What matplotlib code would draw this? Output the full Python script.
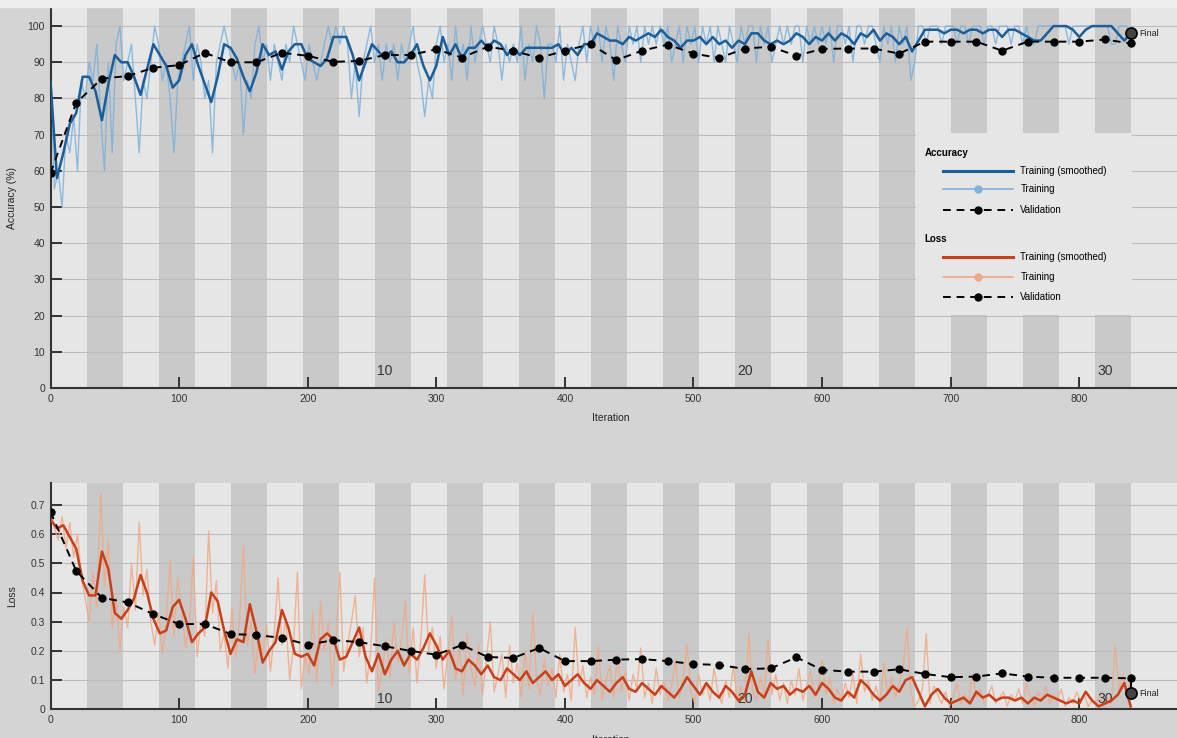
import numpy as np
import matplotlib.pyplot as plt
from matplotlib.patches import Rectangle
from matplotlib.lines import Line2D
from matplotlib.ticker import FuncFormatter
import matplotlib.transforms as mtransforms

# training setup
n_epochs = 30
iters_per_epoch = 28
raw_step = 3
smooth_step = 5
val_step = 20

# accuracy (%) - smoothed training, every 5 iterations
acc_smooth = [
    85, 58, 65, 73, 76, 86, 86, 82, 74, 84,
    92, 90, 90, 86, 81, 88, 95, 92, 89, 83,
    85, 92, 95, 89, 84, 79, 86, 95, 94, 91,
    86, 82, 87, 95, 92, 93, 88, 93, 95, 95,
    91, 90, 89, 91, 97, 97, 97, 92, 85, 90,
    95, 93, 91, 93, 90, 90, 92, 95, 89, 85,
    89, 97, 92, 95, 91, 94, 94, 96, 94, 96,
    95, 92, 94, 92, 94, 94, 94, 94, 94, 95,
    92, 94, 92, 95, 95, 98, 97, 96, 96, 95,
    97, 96, 97, 98, 97, 99, 97, 96, 94, 96,
    96, 97, 95, 97, 95, 96, 94, 96, 95, 98,
    98, 96, 95, 96, 95, 96, 98, 97, 95, 97,
    96, 98, 96, 98, 97, 95, 98, 97, 99, 96,
    98, 97, 95, 97, 93, 96, 99, 99, 99, 98,
    99, 99, 98, 99, 99, 98, 99, 99, 97, 99,
    99, 98, 97, 96, 96, 98, 100, 100, 100, 99,
    97, 99, 100, 100, 100, 100, 98, 96, 98,
]

# accuracy (%) - raw training, every 3 iterations
acc_raw = [
    85, 55, 60, 50, 70, 65, 75, 60, 85, 80,
    90, 85, 95, 75, 60, 90, 65, 95, 100, 85,
    90, 95, 80, 65, 85, 80, 90, 100, 95, 85,
    90, 80, 65, 85, 90, 95, 100, 85, 95, 90,
    80, 85, 65, 90, 95, 100, 95, 90, 85, 90,
    70, 85, 80, 95, 100, 90, 95, 85, 95, 90,
    85, 95, 90, 100, 95, 90, 85, 95, 90, 85,
    90, 95, 100, 95, 100, 95, 100, 95, 80, 90,
    75, 90, 95, 100, 90, 95, 85, 95, 90, 95,
    85, 95, 90, 95, 100, 90, 85, 75, 85, 80,
    95, 100, 90, 95, 85, 100, 90, 95, 85, 100,
    90, 95, 100, 95, 90, 100, 95, 85, 95, 90,
    95, 90, 100, 85, 95, 90, 100, 95, 80, 95,
    95, 90, 100, 85, 95, 90, 85, 95, 100, 90,
    100, 95, 100, 90, 100, 95, 85, 100, 95, 90,
    100, 95, 100, 90, 100, 95, 100, 95, 100, 95,
    100, 90, 95, 100, 90, 100, 95, 100, 90, 100,
    95, 100, 90, 100, 95, 90, 100, 95, 90, 100,
    95, 100, 100, 90, 100, 95, 100, 90, 95, 100,
    95, 100, 95, 100, 100, 90, 100, 95, 100, 95,
    100, 95, 100, 90, 100, 100, 95, 100, 90, 100,
    100, 95, 100, 100, 95, 90, 100, 95, 100, 90,
    100, 95, 100, 85, 90, 100, 100, 95, 100, 100,
    100, 95, 100, 100, 100, 95, 100, 100, 95, 100,
    100, 100, 95, 100, 100, 95, 100, 100, 100, 95,
    100, 100, 95, 100, 95, 95, 100, 100, 100, 100,
    100, 100, 100, 100, 95, 100, 100, 100, 100, 100,
    100, 100, 100, 100, 100, 95, 95, 100, 100, 100,
    95,
]

# accuracy (%) - validation, every 20 iterations
acc_val = [
    59.4, 78.8, 85.5, 86.2, 88.5, 89.2, 92.6, 90.0, 90.0, 92.6,
    91.8, 90.1, 90.4, 92.0, 92.0, 93.6, 91.3, 94.3, 93.2, 91.2,
    93.2, 95.0, 90.6, 93.2, 94.9, 92.4, 91.2, 93.8, 94.3, 91.8,
    93.7, 93.8, 93.8, 92.4, 95.7, 95.7, 95.7, 93.2, 95.7, 95.7,
    95.7, 96.3, 95.2,
]
acc_final = 98.0

# loss - smoothed training, every 5 iterations
loss_smooth = [
    0.65, 0.62, 0.63, 0.59, 0.55, 0.44, 0.39, 0.39, 0.54, 0.48,
    0.33, 0.31, 0.34, 0.38, 0.46, 0.40, 0.31, 0.26, 0.27, 0.35,
    0.375, 0.31, 0.23, 0.26, 0.28, 0.40, 0.37, 0.27, 0.19, 0.24,
    0.23, 0.36, 0.27, 0.16, 0.20, 0.23, 0.34, 0.28, 0.19, 0.18,
    0.19, 0.15, 0.24, 0.26, 0.24, 0.17, 0.18, 0.23, 0.28, 0.18,
    0.13, 0.19, 0.12, 0.17, 0.20, 0.15, 0.19, 0.17, 0.21, 0.26,
    0.22, 0.17, 0.20, 0.14, 0.13, 0.17, 0.15, 0.12, 0.15, 0.11,
    0.10, 0.14, 0.12, 0.10, 0.13, 0.09, 0.11, 0.13, 0.10, 0.12,
    0.08, 0.10, 0.12, 0.09, 0.07, 0.10, 0.08, 0.06, 0.09, 0.11,
    0.07, 0.06, 0.09, 0.07, 0.05, 0.08, 0.06, 0.04, 0.07, 0.11,
    0.08, 0.05, 0.09, 0.06, 0.04, 0.08, 0.06, 0.03, 0.05, 0.13,
    0.06, 0.04, 0.09, 0.07, 0.08, 0.05, 0.07, 0.06, 0.08, 0.05,
    0.09, 0.07, 0.04, 0.03, 0.06, 0.04, 0.10, 0.08, 0.05, 0.03,
    0.05, 0.08, 0.06, 0.10, 0.11, 0.06, 0.01, 0.05, 0.07, 0.04,
    0.02, 0.03, 0.04, 0.02, 0.06, 0.04, 0.05, 0.03, 0.04, 0.04,
    0.03, 0.04, 0.02, 0.04, 0.03, 0.05, 0.04, 0.03, 0.02, 0.03,
    0.02, 0.06, 0.03, 0.01, 0.02, 0.03, 0.05, 0.09, 0.01,
]

# loss - raw training, every 3 iterations
loss_raw = [
    0.68, 0.62, 0.58, 0.66, 0.55, 0.64, 0.52, 0.60, 0.45, 0.38,
    0.30, 0.47, 0.35, 0.74, 0.42, 0.58, 0.28, 0.38, 0.20, 0.35,
    0.28, 0.50, 0.34, 0.64, 0.39, 0.48, 0.30, 0.22, 0.33, 0.19,
    0.30, 0.51, 0.25, 0.45, 0.34, 0.21, 0.29, 0.52, 0.18, 0.30,
    0.25, 0.61, 0.33, 0.44, 0.20, 0.26, 0.14, 0.35, 0.18, 0.30,
    0.56, 0.22, 0.30, 0.12, 0.25, 0.19, 0.29, 0.13, 0.26, 0.45,
    0.22, 0.31, 0.10, 0.22, 0.47, 0.07, 0.18, 0.12, 0.33, 0.09,
    0.37, 0.20, 0.30, 0.08, 0.24, 0.47, 0.13, 0.22, 0.30, 0.39,
    0.18, 0.28, 0.09, 0.20, 0.45, 0.06, 0.14, 0.24, 0.11, 0.30,
    0.16, 0.24, 0.37, 0.12, 0.28, 0.09, 0.24, 0.46, 0.20, 0.28,
    0.14, 0.25, 0.07, 0.19, 0.32, 0.10, 0.21, 0.05, 0.26, 0.14,
    0.08, 0.22, 0.05, 0.17, 0.30, 0.06, 0.12, 0.19, 0.04, 0.22,
    0.09, 0.16, 0.04, 0.20, 0.07, 0.33, 0.10, 0.05, 0.17, 0.08,
    0.14, 0.04, 0.19, 0.06, 0.12, 0.03, 0.28, 0.08, 0.15, 0.04,
    0.11, 0.05, 0.22, 0.03, 0.10, 0.15, 0.04, 0.19, 0.06, 0.13,
    0.03, 0.12, 0.07, 0.21, 0.04, 0.09, 0.02, 0.14, 0.05, 0.10,
    0.03, 0.08, 0.17, 0.04, 0.11, 0.22, 0.06, 0.02, 0.12, 0.05,
    0.09, 0.03, 0.14, 0.06, 0.02, 0.10, 0.04, 0.15, 0.03, 0.08,
    0.02, 0.26, 0.06, 0.03, 0.11, 0.04, 0.24, 0.05, 0.12, 0.03,
    0.09, 0.02, 0.10, 0.05, 0.14, 0.03, 0.08, 0.13, 0.04, 0.07,
    0.17, 0.05, 0.11, 0.02, 0.07, 0.03, 0.09, 0.04, 0.12, 0.02,
    0.19, 0.06, 0.10, 0.03, 0.08, 0.02, 0.16, 0.05, 0.11, 0.04,
    0.09, 0.14, 0.28, 0.06, 0.01, 0.03, 0.07, 0.26, 0.02, 0.08,
    0.05, 0.02, 0.06, 0.01, 0.04, 0.09, 0.02, 0.05, 0.03, 0.12,
    0.04, 0.07, 0.02, 0.05, 0.08, 0.02, 0.04, 0.06, 0.01, 0.05,
    0.03, 0.07, 0.02, 0.09, 0.04, 0.01, 0.06, 0.03, 0.08, 0.02,
    0.05, 0.03, 0.07, 0.01, 0.04, 0.02, 0.06, 0.03, 0.05, 0.01,
    0.03, 0.02, 0.05, 0.01, 0.04, 0.02, 0.22, 0.06, 0.12, 0.04,
    0.12,
]

# loss - validation, every 20 iterations
loss_val = [
    0.676, 0.474, 0.382, 0.366, 0.326, 0.292, 0.292, 0.258, 0.254, 0.245,
    0.221, 0.237, 0.230, 0.216, 0.200, 0.187, 0.220, 0.179, 0.176, 0.210,
    0.165, 0.165, 0.170, 0.172, 0.165, 0.155, 0.152, 0.138, 0.140, 0.178,
    0.135, 0.129, 0.129, 0.137, 0.121, 0.110, 0.112, 0.123, 0.112, 0.108,
    0.108, 0.108, 0.106,
]
loss_final = 0.055

FIG_BG = '#d4d4d4'
LIGHT = '#e6e6e6'
DARK = '#c9c9c9'
AXC = '#333333'
ACC_DARK = '#1b5e9a'
ACC_LIGHT = '#7fb1da'
LOSS_DARK = '#c8401a'
LOSS_LIGHT = '#eeaa88'

plt.rcParams['font.family'] = ['Liberation Sans', 'DejaVu Sans']

W, H = 1177, 738
X0 = 50.5
XMAX = 876


def make_axes(fig, top_px, bottom_px):
    rect = [X0 / W, 1 - bottom_px / H, (W - X0) / W, (bottom_px - top_px) / H]
    return fig.add_axes(rect)


def style_axes(ax, ylim, yticks, ylabel):
    ax.set_facecolor(LIGHT)
    for e in range(2, n_epochs + 1, 2):
        ax.axvspan((e - 1) * iters_per_epoch, e * iters_per_epoch,
                   color=DARK, lw=0, zorder=0)
    ax.set_xlim(0, XMAX)
    ax.set_ylim(*ylim)
    ax.set_xticks(range(0, 801, 100))
    ax.set_yticks(yticks)
    ax.yaxis.set_major_formatter(FuncFormatter(lambda v, p: '%g' % round(v, 3)))
    ax.grid(axis='y', color='#bdbdbd', lw=0.8)
    ax.set_axisbelow(True)
    for s in ('top', 'right'):
        ax.spines[s].set_visible(False)
    for s in ('left', 'bottom'):
        ax.spines[s].set_linewidth(1.5)
        ax.spines[s].set_color(AXC)
    ax.tick_params(direction='in', length=8, width=1.4, colors=AXC,
                   labelsize=7.5, pad=4)
    ax.set_xlabel('Iteration', fontsize=7.5, color='#222')
    ax.set_ylabel(ylabel, fontsize=7.5, color='#222')
    ax.yaxis.set_label_coords(-0.0297, 0.5)
    trans = mtransforms.blended_transform_factory(ax.transData, ax.transAxes)
    for e in (10, 20, 30):
        ax.text((e - 1) * iters_per_epoch + 2, 0.045, str(e), transform=trans,
                fontsize=10, color='#333', ha='left', va='center')


fig = plt.figure(figsize=(W / 100, H / 100), dpi=100, facecolor=FIG_BG)
fig.patches.append(Rectangle((0, 1 - 7 / H), 1, 7 / H, transform=fig.transFigure,
                             color='#eeeeee', zorder=0))

ax1 = make_axes(fig, 8, 388)
ax2 = make_axes(fig, 483, 709.3)

style_axes(ax1, (0, 105), range(0, 101, 10), 'Accuracy (%)')
style_axes(ax2, (0, 0.775), np.arange(0, 0.71, 0.1), 'Loss')
ax1.xaxis.set_label_coords(0.497, -0.066)
ax2.xaxis.set_label_coords(0.497, -0.113)

it_raw = np.arange(0, len(acc_raw)) * raw_step
it_smooth = np.arange(0, len(acc_smooth)) * smooth_step
it_val = np.arange(0, len(acc_val)) * val_step
last_it = n_epochs * iters_per_epoch

for ax, raw, smooth, val, final, dark, light in (
        (ax1, acc_raw, acc_smooth, acc_val, acc_final, ACC_DARK, ACC_LIGHT),
        (ax2, loss_raw, loss_smooth, loss_val, loss_final, LOSS_DARK, LOSS_LIGHT)):
    ax.plot(it_raw, raw, color=light, lw=1.0, alpha=0.85, zorder=2)
    ax.plot(it_smooth, smooth, color=dark, lw=1.8, zorder=3)
    ax.plot(it_val, val, color='k', lw=1.4, ls=(0, (4, 3)), marker='o',
            ms=5, zorder=4)
    ax.plot([last_it, last_it], [val[-1], final], color='k', lw=1.4, zorder=4)
    ax.plot([last_it], [final], marker='o', ms=8, mfc='#444444', mec='k',
            mew=1.2, zorder=5)
    ax.text(last_it + 7, final, 'Final', fontsize=6.5, color='#222',
            va='center', ha='left', zorder=5)

# legend box drawn in axes fraction of the accuracy axes
T = ax1.transAxes
ax1.add_patch(Rectangle((0.768, 0.192), 0.192, 0.479, transform=T,
                        facecolor=LIGHT, edgecolor='none', zorder=6))
ax1.text(0.776, 0.618, 'Accuracy', transform=T, fontsize=7, fontweight='bold',
         va='center', zorder=7)
ax1.text(0.776, 0.392, 'Loss', transform=T, fontsize=7, fontweight='bold',
         va='center', zorder=7)
rows = [
    (0.571, dict(color=ACC_DARK, lw=2.2), 'Training (smoothed)'),
    (0.524, dict(color=ACC_LIGHT, lw=1.2, marker='o', ms=5, markevery=[1]), 'Training'),
    (0.468, dict(color='k', lw=1.4, ls=(0, (4, 3)), marker='o', ms=5, markevery=[1]), 'Validation'),
    (0.345, dict(color=LOSS_DARK, lw=2.2), 'Training (smoothed)'),
    (0.292, dict(color=LOSS_LIGHT, lw=1.2, marker='o', ms=5, markevery=[1]), 'Training'),
    (0.239, dict(color='k', lw=1.4, ls=(0, (4, 3)), marker='o', ms=5, markevery=[1]), 'Validation'),
]
for y, kw, label in rows:
    ax1.add_line(Line2D([0.792, 0.823, 0.854], [y, y, y], transform=T,
                        zorder=7, **kw))
    ax1.text(0.861, y, label, transform=T, fontsize=7, va='center', zorder=7)

fig.savefig('out.png', dpi=100, facecolor=FIG_BG)
